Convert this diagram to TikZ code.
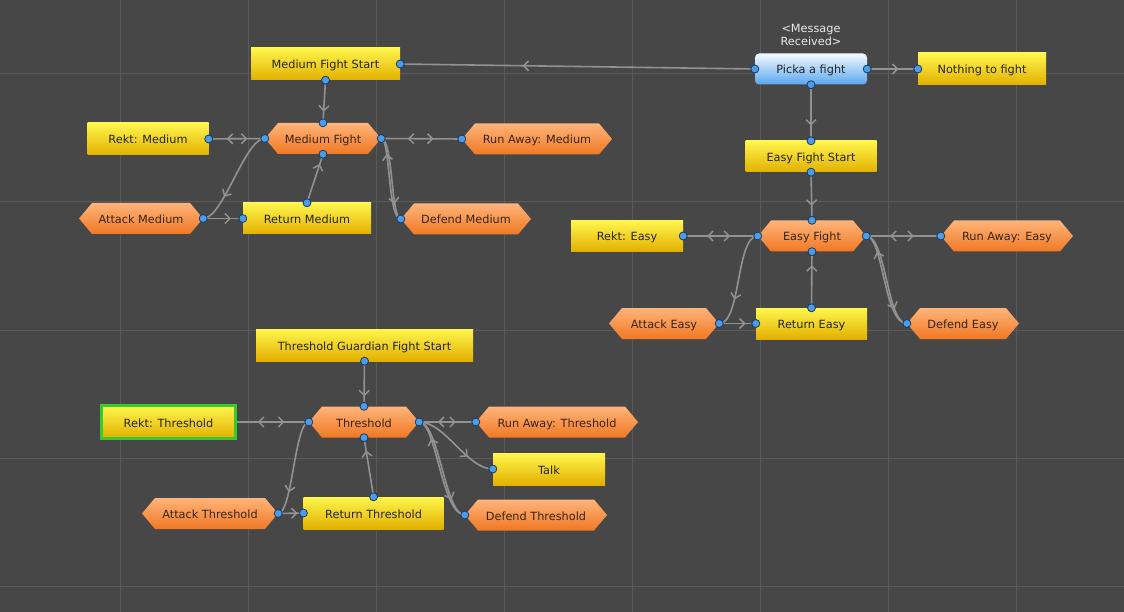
\documentclass[tikz,border=0pt]{standalone}
\usepackage{fontspec}
\setmainfont{DejaVu Sans}
\usetikzlibrary{arrows.meta,decorations.markings}
\definecolor{bg}{HTML}{474747}
\definecolor{gridc}{HTML}{5A5A5A}
\definecolor{linec}{HTML}{929292}
\definecolor{yT}{HTML}{FFF64E}
\definecolor{yM}{HTML}{F6D81A}
\definecolor{yB}{HTML}{E2B000}
\definecolor{oT}{HTML}{FFB47A}
\definecolor{oM}{HTML}{FF964C}
\definecolor{oB}{HTML}{F07824}
\definecolor{bT}{HTML}{F4FAFF}
\definecolor{bM}{HTML}{D6EAFF}
\definecolor{bB}{HTML}{5AA6F0}
\definecolor{dotc}{HTML}{4C9CE8}
\definecolor{dotb}{HTML}{163A62}
\definecolor{ytext}{HTML}{262420}
\definecolor{otext}{HTML}{35251A}
\definecolor{gborder}{HTML}{33CC2E}
\tikzset{
  every node/.style={font=\fontsize{11.3pt}{13pt}\selectfont},
  lbltext/.style={text height=10pt, text depth=0pt},
  ybox/.style={minimum width=#1, minimum height=31pt, inner sep=0pt, lbltext,
    top color=yT, middle color=yM, bottom color=yB, text=ytext},
  gbox/.style={ybox=#1, minimum height=33pt, draw=gborder, line width=3pt},
  bbox/.style={minimum width=#1, minimum height=31pt, inner sep=0pt, rounded corners=4pt, lbltext,
    top color=bT, middle color=bM, bottom color=bB, text=ytext},
  hexa/.style={minimum width=#1, minimum height=31pt, inner sep=0pt, text=otext, lbltext,
    path picture={\shade[top color=oT, middle color=oM, bottom color=oB]
      ([xshift=13pt]path picture bounding box.north west) --
      ([xshift=-13pt]path picture bounding box.north east) --
      (path picture bounding box.east) --
      ([xshift=-13pt]path picture bounding box.south east) --
      ([xshift=13pt]path picture bounding box.south west) --
      (path picture bounding box.west) -- cycle;}},
  msg/.style={text=white!92!black, align=center, inner sep=0pt},
  conn/.style={draw=linec, line width=1.6pt},
  mid/.style={postaction={decorate,decoration={markings,
    mark=at position #1 with {\arrow{Straight Barb[length=5pt,width=10pt,line width=1.5pt]}}}}},
  bidir/.style 2 args={postaction={decorate,decoration={markings,
    mark=at position #1 with {\arrowreversed{Straight Barb[length=5pt,width=10pt,line width=1.5pt]}},
    mark=at position #2 with {\arrow{Straight Barb[length=5pt,width=10pt,line width=1.5pt]}}}}},
  dot/.style={fill=dotc, draw=dotb, line width=0.8pt},
}
\begin{document}
\begin{tikzpicture}[x=1pt,y=-1pt]
\useasboundingbox (0,0) rectangle (1124,612);
\fill[bg] (0,0) rectangle (1124,612);
\foreach \x in {120,248,...,1016} \draw[gridc, line width=1pt] (\x,0) -- (\x,612);
\foreach \y in {74,202,...,586} \draw[gridc, line width=1pt] (0,\y) -- (1124,\y);

% Medium cluster
\node[ybox=149pt, minimum height=32pt] (mfs) at (325.5,64) {Medium Fight Start};
\node[hexa=116pt] (mf) at (323,138.5) {Medium Fight};
\node[ybox=121pt, minimum height=32pt] (rm) at (148,139) {Rekt: Medium};
\node[hexa=150pt] (ram) at (537,139) {Run Away: Medium};
\node[hexa=124pt] (am) at (141,218.5) {Attack Medium};
\node[ybox=128pt] (retm) at (307,218.5) {Return Medium};
\node[hexa=130pt] (dm) at (466,219) {Defend Medium};

% Easy cluster
\node[bbox=112pt] (pick) at (811,69) {Picka a fight};
\node[msg] (lbl) at (811,34.5) {<Message\\Received>};
\node[ybox=128pt, minimum height=32pt] (nothing) at (982,69) {Nothing to fight};
\node[ybox=131pt] (efs) at (811,156.5) {Easy Fight Start};
\node[hexa=108pt] (ef) at (812,236) {Easy Fight};
\node[ybox=112pt] (re) at (627,236) {Rekt: Easy};
\node[hexa=132pt] (rae) at (1007,236) {Run Away: Easy};
\node[hexa=110pt] (ae) at (664,323.5) {Attack Easy};
\node[ybox=111pt] (rete) at (811.5,323.5) {Return Easy};
\node[hexa=112pt] (de) at (963,323.5) {Defend Easy};

% Threshold cluster
\node[ybox=217pt, minimum height=32pt] (tgfs) at (364.5,345) {Threshold Guardian Fight Start};
\node[hexa=110pt] (thr) at (364,422) {Threshold};
\node[gbox=134pt] (rt) at (168.5,422) {Rekt: Threshold};
\node[hexa=162pt] (rat) at (557,422) {Run Away: Threshold};
\node[ybox=112pt, minimum height=32pt] (talk) at (549,469) {Talk};
\node[hexa=136pt] (at) at (210,513.5) {Attack Threshold};
\node[ybox=140pt, minimum height=32pt] (rett) at (373.6,513) {Return Threshold};
\node[hexa=142pt] (dt) at (536,515) {Defend Threshold};

% connectors: top
\draw[conn, mid=0.655] (pick.west) -- (mfs.east);
\draw[conn, mid=0.62] (pick.east) -- (nothing.west);
\draw[conn, mid=0.73] (pick.south) -- (efs.north);
\draw[conn, mid=0.7] (efs.south) -- (ef.north);
% easy
\draw[conn, bidir={0.32}{0.63}] (re.east) -- (ef.west);
\draw[conn, bidir={0.32}{0.64}] (ef.east) -- (rae.west);
\draw[conn, mid=0.7] (ef.west) .. controls +(-22,0) and +(22,0) .. (ae.east);
\draw[conn, mid=0.72] (ae.east) -- (rete.west);
\draw[conn, mid=0.76] (rete.north) -- (ef.south);
\draw[conn, mid=0.8] (ef.east) .. controls +(20,0) and +(-20,0) .. (de.west);
\draw[conn, mid=0.8] (de.west) .. controls +(-23,0) and +(17,0) .. (ef.east);
% medium
\draw[conn, mid=0.74] (mfs.south) -- (mf.north);
\draw[conn, bidir={0.32}{0.69}] (rm.east) -- (mf.west);
\draw[conn, bidir={0.33}{0.65}] (mf.east) -- (ram.west);
\draw[conn, mid=0.7] (mf.west) .. controls +(-20,0) and +(20,0) .. (am.east);
\draw[conn, mid=0.7] (am.east) -- (retm.west);
\draw[conn, mid=0.8] (retm.north) -- (mf.south);
\draw[conn, mid=0.8] (mf.east) .. controls +(12,0) and +(-10,0) .. (dm.west);
\draw[conn, mid=0.8] (dm.west) .. controls +(-13,0) and +(9,0) .. (mf.east);
% threshold
\draw[conn, mid=0.78] (tgfs.south) -- (thr.north);
\draw[conn, bidir={0.29}{0.66}] (rt.east) -- (thr.west);
\draw[conn, bidir={0.33}{0.65}] (thr.east) -- (rat.west);
\draw[conn, mid=0.68] (thr.east) .. controls +(26,0) and +(-26,0) .. (talk.west);
\draw[conn, mid=0.75] (thr.west) .. controls +(-14,0) and +(14,0) .. (at.east);
\draw[conn, mid=0.77] (at.east) -- (rett.west);
\draw[conn, mid=0.78] (rett.north) -- (thr.south);
\draw[conn, mid=0.8] (thr.east) .. controls +(20,0) and +(-20,0) .. (dt.west);
\draw[conn, mid=0.8] (dt.west) .. controls +(-23,0) and +(17,0) .. (thr.east);

% dots
\foreach \a in {mfs.east, mfs.south, mf.north, mf.west, mf.east, mf.south, rm.east, ram.west,
  am.east, retm.west, retm.north, dm.west, pick.west, pick.east, pick.south, nothing.west,
  efs.north, efs.south, ef.north, ef.west, ef.east, ef.south, re.east, rae.west, ae.east,
  rete.west, rete.north, de.west, tgfs.south, thr.north, thr.west, thr.east, thr.south,
  rat.west, talk.west, at.east, rett.west, rett.north, dt.west}
  \filldraw[dot] (\a) circle (4pt);
\end{tikzpicture}
\end{document}
